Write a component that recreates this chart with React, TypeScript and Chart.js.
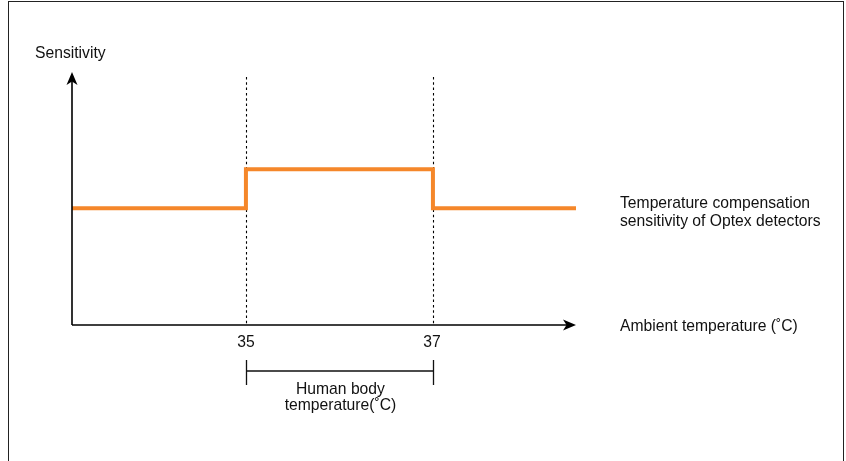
import React, { useEffect, useRef } from "react";
import { Chart, registerables } from "chart.js";

Chart.register(...registerables);

// Data
const temperatures = [33.14, 35, 37, 38.53];
const sensitivity = [3, 4, 3, 3];
const xRange = [33.14, 38.53];
const yRange = [0, 6.5];
const markTemps = [35, 37];
const tickLabels = ["35", "37"];
const seriesLabel = ["Temperature compensation", "sensitivity of Optex detectors"];
const xTitle = "Ambient temperature (˚C)";
const yTitle = "Sensitivity";
const bracketLabel = ["Human body", "temperature(˚C)"];

const ORANGE = "#F5872A";
const INK = "#111";
const FONT = "15.7px 'Liberation Sans', Arial, Helvetica, sans-serif";

function arrowHead(ctx: CanvasRenderingContext2D, tx: number, ty: number, dx: number, dy: number) {
  const len = 13, half = 5.5, notch = 9.5;
  const px = -dy, py = dx;
  ctx.beginPath();
  ctx.moveTo(tx, ty);
  ctx.lineTo(tx - dx * len + px * half, ty - dy * len + py * half);
  ctx.lineTo(tx - dx * notch, ty - dy * notch);
  ctx.lineTo(tx - dx * len - px * half, ty - dy * len - py * half);
  ctx.closePath();
  ctx.fill();
}

const decorPlugin = {
  id: "decor",
  beforeDatasetsDraw(chart: any) {
    const { ctx, scales } = chart;
    const xs = scales.x, ys = scales.y;
    const bottom = ys.getPixelForValue(yRange[0]);
    ctx.save();
    ctx.strokeStyle = "#000";
    ctx.lineWidth = 1.1;
    ctx.setLineDash([2.5, 2.8]);
    markTemps.forEach((t) => {
      const px = Math.round(xs.getPixelForValue(t)) + 0.5;
      ctx.beginPath();
      ctx.moveTo(px, 77);
      ctx.lineTo(px, bottom);
      ctx.stroke();
    });
    ctx.restore();
  },
  afterDatasetsDraw(chart: any) {
    const { ctx, scales } = chart;
    const xs = scales.x, ys = scales.y;
    const left = xs.getPixelForValue(xRange[0]);
    const right = xs.getPixelForValue(xRange[1]);
    const bottom = ys.getPixelForValue(yRange[0]);
    const top = ys.getPixelForValue(yRange[1]);
    ctx.save();
    ctx.strokeStyle = "#000";
    ctx.fillStyle = "#000";
    ctx.lineWidth = 1.6;
    // axes
    ctx.beginPath();
    ctx.moveTo(left, bottom);
    ctx.lineTo(left, top + 9);
    ctx.moveTo(left, bottom);
    ctx.lineTo(right - 9, bottom);
    ctx.stroke();
    arrowHead(ctx, left, top, 0, -1);
    arrowHead(ctx, right, bottom, 1, 0);

    // text
    ctx.fillStyle = INK;
    ctx.font = FONT;
    ctx.textBaseline = "alphabetic";
    ctx.textAlign = "left";
    ctx.fillText(yTitle, 35, 58);
    ctx.fillText(xTitle, 620, 331);
    ctx.fillText(seriesLabel[0], 620, 208);
    ctx.fillText(seriesLabel[1], 620, 226);

    // tick labels
    ctx.textAlign = "center";
    const p0 = xs.getPixelForValue(markTemps[0]);
    const p1 = xs.getPixelForValue(markTemps[1]);
    ctx.fillText(tickLabels[0], p0, 347);
    ctx.fillText(tickLabels[1], p1 - 1, 347);

    // bracket
    ctx.strokeStyle = INK;
    ctx.lineWidth = 1.3;
    ctx.beginPath();
    const b0 = Math.round(p0) + 0.5, b1 = Math.round(p1) + 0.5;
    ctx.moveTo(b0, 360);
    ctx.lineTo(b0, 385);
    ctx.moveTo(b1, 360);
    ctx.lineTo(b1, 385);
    ctx.moveTo(b0, 371);
    ctx.lineTo(b1, 371);
    ctx.stroke();
    const mid = (p0 + p1) / 2;
    ctx.fillText(bracketLabel[0], mid + 1, 394);
    ctx.fillText(bracketLabel[1], mid + 1, 410);
    ctx.restore();
  },
};

export default function App() {
  const ref = useRef<HTMLCanvasElement | null>(null);
  useEffect(() => {
    if (!ref.current) return;
    const chart = new Chart(ref.current, {
      type: "line",
      data: {
        datasets: [
          {
            data: temperatures.map((x, i) => ({ x, y: sensitivity[i] })),
            borderColor: ORANGE,
            borderWidth: 4,
            pointRadius: 0,
            stepped: "before",
            borderJoinStyle: "miter",
            fill: false,
          },
        ],
      },
      options: {
        animation: false,
        responsive: false,
        events: [],
        layout: { padding: { left: 72, right: 270, top: 72, bottom: 136 } },
        scales: {
          x: { type: "linear", min: xRange[0], max: xRange[1], display: false },
          y: { type: "linear", min: yRange[0], max: yRange[1], display: false },
        },
        plugins: { legend: { display: false }, tooltip: { enabled: false } },
      },
      plugins: [decorPlugin],
    } as any);
    return () => chart.destroy();
  }, []);

  return (
    <div style={{ position: "absolute", left: 0, top: 0, width: 846, height: 461, overflow: "hidden", background: "#fff" }}>
      <div
        style={{
          position: "absolute",
          left: 8,
          top: 1,
          width: 834,
          height: 500,
          border: "1.5px solid #222",
        }}
      />
      <canvas ref={ref} width={846} height={461} style={{ position: "absolute", left: 0, top: 0, width: 846, height: 461 }} />
    </div>
  );
}
